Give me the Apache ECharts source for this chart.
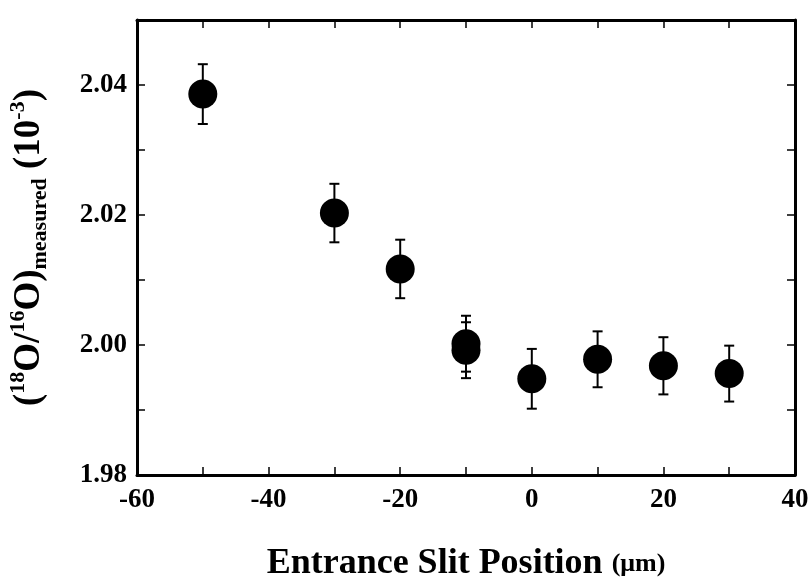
<!DOCTYPE html>
<html><head><meta charset="utf-8">
<script src="https://cdn.jsdelivr.net/npm/echarts@6/dist/echarts.min.js"></script>
<style>html,body{margin:0;padding:0;background:#fff}#c{width:809px;height:581px}</style>
</head><body><div id="c"></div>
<script>
const slitPos = [-50, -30, -20, -10, -10, 0, 10, 20, 30];
const ratio   = [2.0386, 2.0203, 2.0117, 2.0002, 1.9992, 1.9948, 1.9978, 1.9968, 1.9956];
const errs    = [0.0046, 0.0045, 0.0045, 0.0043, 0.0043, 0.0046, 0.0043, 0.0044, 0.0043];
const xTicks = [-60, -40, -20, 0, 20, 40];
const yTicks = [1.98, 2.00, 2.02, 2.04];

const font = 'Liberation Serif';
const chart = echarts.init(document.getElementById('c'));
const pts = slitPos.map((x, i) => [x, ratio[i]]);
const bars = slitPos.map((x, i) => [x, ratio[i] - errs[i], ratio[i] + errs[i]]);

const axisBase = {
  axisLine: {show: true, onZero: false, lineStyle: {color: '#000', width: 3}},
  axisTick: {show: true, inside: true, length: 8, lineStyle: {color: '#000', width: 1.5}},
  splitLine: {show: false}
};

chart.setOption({
  animation: false,
  grid: {left: 137, right: 14, top: 20, bottom: 106, containLabel: false, outerBoundsMode: 'none'},
  xAxis: [
    Object.assign({}, axisBase, {
      type: 'value', min: -60, max: 40, interval: 10, position: 'bottom',
      axisLabel: {
        color: '#000', fontFamily: font, fontWeight: 'bold', fontSize: 27, margin: 12,
        formatter: v => xTicks.includes(v) ? String(v) : ''
      },
      name: '{a|Entrance Slit Position }{b|(μm)}',
      nameLocation: 'middle', nameGap: 71,
      nameTextStyle: {rich: {
        a: {fontFamily: font, fontWeight: 'bold', fontSize: 36, color: '#000'},
        b: {fontFamily: font, fontSize: 26, color: '#000', fontWeight: 'bold'}
      }}
    }),
    Object.assign({}, axisBase, {
      type: 'value', min: -60, max: 40, interval: 10, position: 'top',
      axisLabel: {show: false}
    })
  ],
  yAxis: [
    Object.assign({}, axisBase, {
      type: 'value', min: 1.98, max: 2.05, interval: 0.01, position: 'left',
      axisLabel: {
        color: '#000', fontFamily: font, fontWeight: 'bold', fontSize: 27, margin: 10,
        formatter: v => yTicks.some(t => Math.abs(t - v) < 1e-6) ? v.toFixed(2) : ''
      },
      name: '{m|(}{s|18}{m|O/}{s|16}{m|O)}{d|measured}{m| (10}{s|-3}{m|)}',
      nameLocation: 'middle', nameGap: 86, nameRotate: 90,
      nameTextStyle: {rich: {
        m: {fontFamily: font, fontWeight: 'bold', fontSize: 37, color: '#000', lineHeight: 44, verticalAlign: 'middle'},
        s: {fontFamily: font, fontWeight: 'bold', fontSize: 22, color: '#000', lineHeight: 44, verticalAlign: 'top'},
        d: {fontFamily: font, fontWeight: 'bold', fontSize: 22, color: '#000', lineHeight: 44, verticalAlign: 'bottom'}
      }}
    }),
    Object.assign({}, axisBase, {
      type: 'value', min: 1.98, max: 2.05, interval: 0.01, position: 'right',
      axisLabel: {show: false}
    })
  ],
  series: [
    {
      type: 'custom', xAxisIndex: 0, yAxisIndex: 0, data: bars,
      renderItem: function (params, api) {
        const x = api.value(0);
        const lo = api.coord([x, api.value(1)]);
        const hi = api.coord([x, api.value(2)]);
        const w = 5;
        const st = {stroke: '#000', lineWidth: 2};
        return {type: 'group', children: [
          {type: 'line', shape: {x1: lo[0], y1: lo[1], x2: hi[0], y2: hi[1]}, style: st},
          {type: 'line', shape: {x1: lo[0] - w, y1: lo[1], x2: lo[0] + w, y2: lo[1]}, style: st},
          {type: 'line', shape: {x1: hi[0] - w, y1: hi[1], x2: hi[0] + w, y2: hi[1]}, style: st}
        ]};
      },
      z: 2
    },
    {
      type: 'scatter', data: pts, symbol: 'circle', symbolSize: 29,
      itemStyle: {color: '#000', opacity: 1}, z: 3
    }
  ]
});
</script></body></html>
